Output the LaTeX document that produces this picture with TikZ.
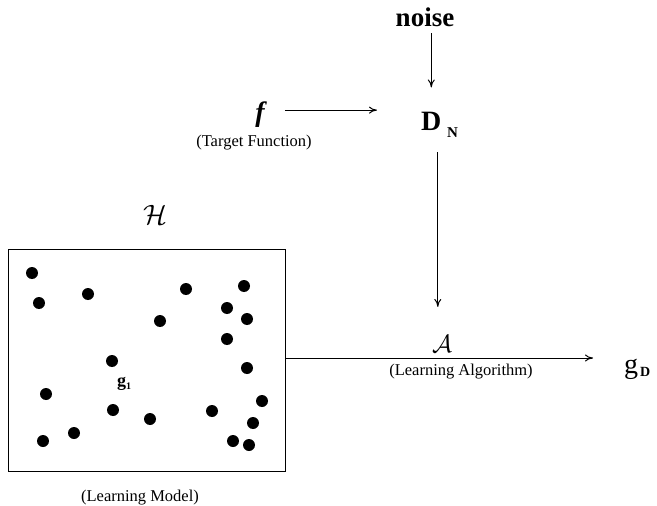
\documentclass[tikz,border=0pt]{standalone}
\usepackage{fontspec}
\setmainfont{Liberation Serif}
\usetikzlibrary{arrows.meta}
\begin{document}
\begin{tikzpicture}[x=1pt,y=-1pt,every node/.style={inner sep=0pt},
  lbl/.style={font=\fontsize{16.5}{18}\selectfont},
  arr/.style={-{To[length=8pt,width=7pt]},line width=1pt}]
  \useasboundingbox (0,0) rectangle (657,506);
  \node[anchor=base,font=\fontsize{27}{30}\selectfont\bfseries] (noise) at (425,27) {noise};
  \node[anchor=base,font=\fontsize{28}{30}\selectfont\bfseries\itshape] (f) at (260,121) {f};
  \node[lbl,anchor=base] (target) at (254,146) {(Target Function)};
  \node[anchor=base west,font=\fontsize{28}{30}\selectfont\bfseries] (D) at (421,130) {D};
  \node[anchor=base west,font=\fontsize{15}{16}\selectfont\bfseries] (N) at (447,137) {N};
  \node[scale=2.8] (H) at (155,215) {$\mathcal{H}$};
  \node[draw,line width=1pt,minimum width=277pt,minimum height=222pt] (box) at (146.5,360) {};
  \node[anchor=base west,font=\fontsize{18}{20}\selectfont\bfseries] (g1) at (117,386) {g\raisebox{-3pt}{\fontsize{10}{11}\selectfont 1}};
  \node[lbl,anchor=base] (model) at (140,501) {(Learning Model)};
  \node[scale=2.5] (A) at (442,344) {$\mathcal{A}$};
  \node[lbl,anchor=base] (alg) at (461,375) {(Learning Algorithm)};
  \node[anchor=base west,font=\fontsize{28}{30}\selectfont] (gD) at (624,373) {g\hspace{2pt}\raisebox{-3pt}{\fontsize{14}{15}\selectfont\bfseries D}};
  % hypotheses
  \foreach \x/\y in {32/273,39/303,88/294,186/289,244/286,227/308,247/319,160/321,227/339,112/361,
                     247/368,46/394,262/401,113/410,150/419,212/411,253/423,43/441,74/433,233/441,249/445}
    \fill (\x,\y) circle (6pt);
  \draw[arr,shorten <=6pt,shorten >=24pt] (noise.south -| D) -- (D.north);
  \draw[arr,shorten <=20pt,shorten >=44pt] ([yshift=4pt]f.east) -- ([yshift=4pt]f.east -| D.west);
  \draw[arr,shorten <=22pt,shorten >=28pt] ([xshift=6.5pt]D.south) -- ([xshift=6.5pt]D.south |- A.north);
  \draw[arr,shorten >=31pt] ([yshift=2pt]box.east) -- ([yshift=2pt]box.east -| gD.west);
\end{tikzpicture}
\end{document}
